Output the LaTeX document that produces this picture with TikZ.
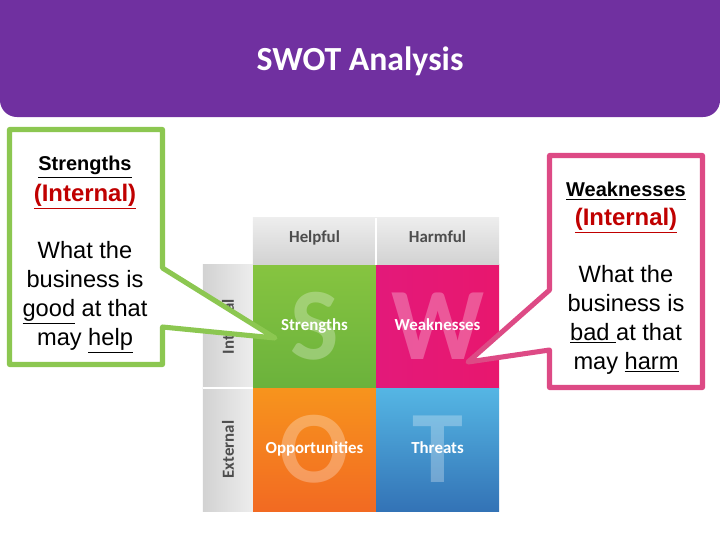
\documentclass[tikz,border=0pt]{standalone}
\usepackage{fontspec}
\setmainfont{Liberation Sans}
\newfontfamily\calfont{Carlito}
\usetikzlibrary{positioning}
\definecolor{titlebg}{HTML}{7030A0}
\definecolor{callg}{HTML}{8CC751}
\definecolor{callp}{HTML}{DD4A85}
\definecolor{redtxt}{HTML}{C00000}
\definecolor{hdtop}{HTML}{EDEDED}
\definecolor{hdbot}{HTML}{D2D2D2}
\definecolor{hdtxt}{HTML}{4D4D4D}
\definecolor{sqa}{HTML}{86C440}
\definecolor{sqb}{HTML}{6BB23C}
\definecolor{wqa}{HTML}{E3197A}
\definecolor{wqb}{HTML}{E8176E}
\definecolor{oqa}{HTML}{F7941D}
\definecolor{oqb}{HTML}{F26A22}
\definecolor{tqa}{HTML}{55B6E4}
\definecolor{tqb}{HTML}{3373B6}

\begin{document}
\begin{tikzpicture}[
    x=0.025cm, y=-0.025cm,
    cell/.style={minimum width=3.075cm, minimum height=3.075cm, inner sep=0pt, outer sep=0pt},
    head/.style={minimum width=3.075cm, minimum height=1.175cm, inner sep=0pt, outer sep=0pt,
                 top color=hdtop, bottom color=hdbot, text=hdtxt,
                 text height=1.6ex, text depth=1.2ex,
                 font=\calfont\fontsize{12}{14}\selectfont\bfseries},
    side/.style={minimum width=1.25cm, minimum height=3.075cm, inner sep=0pt, outer sep=0pt,
                 left color=hdbot, right color=hdtop},
    sidetext/.style={rotate=90, text=hdtxt, font=\calfont\fontsize{12}{14}\selectfont\bfseries},
    bigletter/.style={text=white, text opacity=0.28, font=\calfont\fontsize{73}{73}\selectfont\bfseries},
    qlabel/.style={text=white, text height=1.6ex, text depth=0.5ex,
                   font=\calfont\fontsize{12}{14}\selectfont\bfseries},
    callout/.style={line width=3.6pt, fill=white, line join=round},
    calltitle/.style={font=\fontsize{14.2}{17}\selectfont\bfseries},
    callscope/.style={text=redtxt, font=\fontsize{17}{20}\selectfont\bfseries},
    calltext/.style={align=center, font=\fontsize{16.8}{20.6}\selectfont},
]
\useasboundingbox (0,0) rectangle (720,540);

% Title bar
\fill[titlebg, rounded corners=12pt] (0,-30) rectangle (720,117);
\node[text=white, font=\calfont\fontsize{24}{28}\selectfont\bfseries] (title) at (360,61) {SWOT Analysis};

% SWOT matrix
\node[cell, top color=sqa, bottom color=sqb] (sq) at (314.5,326.5) {};
\node[cell, left color=wqa, right color=wqb, right=0pt of sq] (wq) {};
\node[cell, top color=oqa, bottom color=oqb, below=0pt of sq] (oq) {};
\node[cell, top color=tqa, bottom color=tqb, right=0pt of oq] (tq) {};

\node[head, above=0pt of sq] (hhelp) {Helpful};
\node[head, above=0pt of wq] (hharm) {Harmful};
\node[side, left=0pt of sq] (sidein) {};
\node[side, left=0pt of oq] (sideex) {};
\draw[white, line width=0.8pt] (hhelp.north east) -- (hhelp.south east);
\draw[white, line width=0.8pt] (sidein.south west) -- (sidein.south east);

\node[sidetext] (tin) at (sidein) {Internal};
\node[sidetext] (tex) at (sideex) {External};

\node[bigletter] (bs) at (sq) {S};
\node[bigletter] (bw) at (wq) {W};
\node[bigletter] (bo) at (oq) {O};
\node[bigletter] (bt) at (tq) {T};
\node[qlabel] (ls) at (sq) {Strengths};
\node[qlabel] (lw) at (wq) {Weaknesses};
\node[qlabel] (lo) at (oq) {Opportunities};
\node[qlabel] (lt) at (tq) {Threats};

% Strengths callout
\coordinate (stip) at (275,338);
\draw[callout, draw=callg] (9.5,129.5) -- (162.5,129.5) -- (162.5,268) -- (stip)
    -- (162.5,327) -- (162.5,364.5) -- (9.5,364.5) -- cycle;
\node[calltitle] (shead) at (85,167) {\underline{Strengths}};
\node[callscope] (sscope) at (85,197) {\underline{(Internal)}};
\node[calltext] (sbody) at (85,297.5) {What the\\business is\\\underline{good} at that\\may \underline{help}};

% Weaknesses callout
\coordinate (wtip) at (468,362);
\draw[callout, draw=callp] (549.5,155.5) -- (702.5,155.5) -- (702.5,387.5) -- (549.5,387.5)
    -- (549.5,350) -- (wtip) -- (549.5,290) -- cycle;
\node[calltitle] (whead) at (626,191) {\underline{Weaknesses}};
\node[callscope] (wscope) at (626,221) {\underline{(Internal)}};
\node[calltext] (wbody) at (626,319.5) {What the\\business is\\\underline{bad\ }at that\\may \underline{harm}};

\end{tikzpicture}
\end{document}
